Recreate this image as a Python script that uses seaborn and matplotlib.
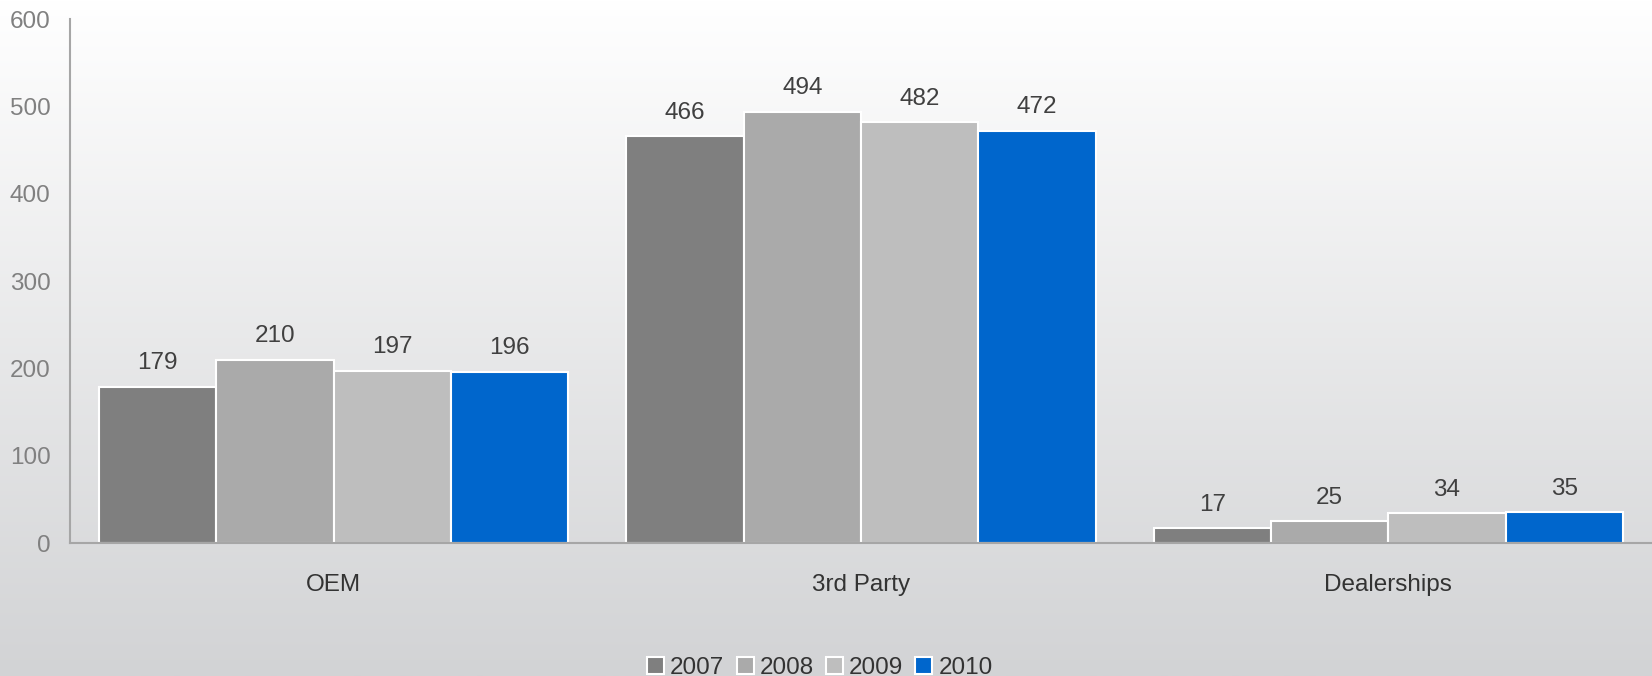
import numpy as np
import pandas as pd
import matplotlib
matplotlib.use("Agg")
import matplotlib.pyplot as plt
import seaborn as sns

categories = ["OEM", "3rd Party", "Dealerships"]
years = ["2007", "2008", "2009", "2010"]
v2007 = [179, 466, 17]
v2008 = [210, 494, 25]
v2009 = [197, 482, 34]
v2010 = [196, 472, 35]
colors = ["#7f7f7f", "#aaaaaa", "#bebebe", "#0066cc"]

rows = []
for yr, vals in zip(years, [v2007, v2008, v2009, v2010]):
    for c, v in zip(categories, vals):
        rows.append({"cat": c, "year": yr, "value": v})
df = pd.DataFrame(rows)

sns.set_theme(style="white")
plt.rcParams["font.family"] = ["Liberation Sans", "DejaVu Sans"]

fig = plt.figure(figsize=(16.52, 6.76), dpi=100)
# gradient background
bg = fig.add_axes([0, 0, 1, 1], zorder=-10)
grad = np.linspace(1.0, 0.0, 256).reshape(-1, 1)
top = np.array([1.0, 1.0, 1.0])
bot = np.array([0xd2, 0xd3, 0xd5]) / 255.0
img = grad[..., None] * top + (1 - grad[..., None]) * bot
bg.imshow(img, aspect="auto", extent=[0, 1, 0, 1])
bg.axis("off")

ax = fig.add_axes([70 / 1652, 1 - 543 / 676, 1 - 70 / 1652, (543 - 19) / 676])
ax.patch.set_alpha(0)
sns.barplot(data=df, x="cat", y="value", hue="year", palette=colors,
            width=0.89, edgecolor="white", linewidth=1.5, ax=ax, saturation=1)
ax.set_xlim(-0.5, 2.5)
ax.set_ylim(0, 600)
ax.set_yticks([0, 100, 200, 300, 400, 500, 600])
ax.set_xlabel("")
ax.set_ylabel("")
for s in ["top", "right"]:
    ax.spines[s].set_visible(False)
for s in ["left", "bottom"]:
    ax.spines[s].set_color("#a6a6a6")
    ax.spines[s].set_linewidth(1.5)
ax.tick_params(axis="y", length=0, labelsize=17.5, labelcolor="#808080", pad=14)
ax.tick_params(axis="x", length=0, labelsize=17.5, labelcolor="#333333", pad=22)

for cont in ax.containers:
    ax.bar_label(cont, fmt="%d", padding=9, fontsize=17.5, color="#404040")

handles, labels = ax.get_legend_handles_labels()
ax.legend(handles, labels, loc="center", bbox_to_anchor=(0.474, -0.238),
          ncol=4, frameon=False, fontsize=17.5, handlelength=0.7, handleheight=0.7,
          handletextpad=0.25, columnspacing=0.5, labelcolor="#333333",
          borderpad=0)

fig.savefig("out.png", dpi=100)
